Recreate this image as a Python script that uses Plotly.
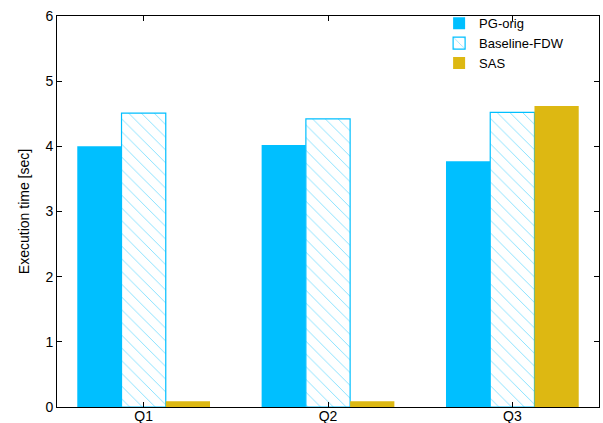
import plotly.graph_objects as go

categories = ["Q1", "Q2", "Q3"]
pg_orig = [4.00, 4.02, 3.77]
baseline_fdw = [4.51, 4.42, 4.52]
sas = [0.09, 0.09, 4.62]
y_ticks = [0, 1, 2, 3, 4, 5, 6]

BLUE = "#00BFFF"
GOLD = "#DDB812"

fig = go.Figure()
fig.add_trace(go.Bar(name="PG-orig", x=categories, y=pg_orig,
                     marker=dict(color=BLUE, line=dict(width=0))))
fig.add_trace(go.Bar(name="Baseline-FDW", x=categories, y=baseline_fdw,
                     marker=dict(color="white", line=dict(color=BLUE, width=1.2),
                                 pattern=dict(shape="\\", fgcolor=BLUE, bgcolor="white",
                                              size=9, solidity=0.1))))
fig.add_trace(go.Bar(name="SAS", x=categories, y=sas,
                     marker=dict(color=GOLD, line=dict(width=0))))

fig.update_layout(
    width=603, height=423,
    margin=dict(l=57, r=4, t=16, b=16),
    paper_bgcolor="white", plot_bgcolor="white",
    barmode="group", bargap=0.28, bargroupgap=0,
    font=dict(family="Liberation Sans, Arial, sans-serif", size=14, color="black"),
    legend=dict(x=0.705, y=1.02, xanchor="left", yanchor="top",
                bgcolor="rgba(0,0,0,0)", font=dict(size=13),
                tracegroupgap=0, itemwidth=30),
    xaxis=dict(range=[-0.47, 2.47], showline=True, linecolor="black", linewidth=1,
               mirror="ticks", ticks="inside", ticklen=5, tickcolor="black",
               showgrid=False, zeroline=False, tickfont=dict(size=14),
               automargin=False, ticklabelstandoff=-4),
    yaxis=dict(range=[0, 6], tickvals=y_ticks, showline=True, linecolor="black",
               linewidth=1, mirror="ticks", ticks="inside", ticklen=5,
               tickcolor="black", showgrid=False, zeroline=False, automargin=False,
               title=dict(text="Execution time [sec]", font=dict(size=14), standoff=12),
               tickfont=dict(size=14)),
)

fig.write_html("out.html", config={"displayModeBar": False},
               post_script="document.body.style.margin='0';document.body.style.overflow='hidden';")
